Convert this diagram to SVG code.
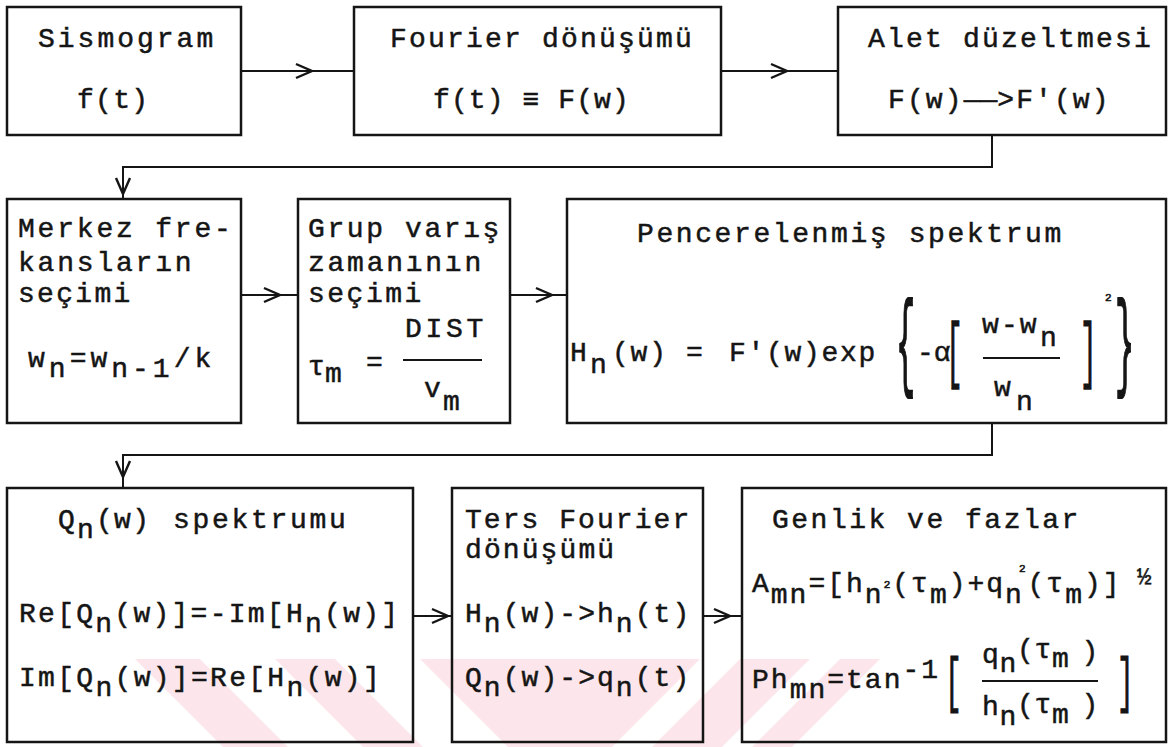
<svg xmlns="http://www.w3.org/2000/svg" width="1168" height="747" viewBox="0 0 1168 747">
  <style>
    .t { font-family: "Liberation Mono", "DejaVu Sans Mono", monospace; font-size: 28px; fill: #151515; stroke: #151515; stroke-width: 0.5px; }
    .sm { font-size: 11px; stroke-width: 0.6px; }
    .box { fill: none; stroke: #151515; stroke-width: 2.5; }
    .rule { stroke: #151515; stroke-width: 2.2; }
    .wire { fill: none; stroke: #151515; stroke-width: 2; }
    .wm { fill: #fce6eb; }
  </style>
  <defs>
    <marker id="chev" markerUnits="userSpaceOnUse" markerWidth="24" markerHeight="24" viewBox="-20 -12 24 24" refX="0" refY="0" orient="auto">
      <path d="M-16,-7 L0,0 L-16,7" fill="none" stroke="#151515" stroke-width="2.4"/>
    </marker>
  </defs>
  <rect width="1168" height="747" fill="#ffffff"/>

  <!-- faint background stamp along the bottom edge -->
  <g id="stamp">
    <polygon class="wm" points="135,659 200,659 288,747 223,747"/>
    <polygon class="wm" points="275,659 335,659 423,747 363,747"/>
    <polygon class="wm" points="420,659 560,659 560,747 508,747"/>
    <polygon class="wm" points="560,659 700,659 612,747 560,747"/>
    <polygon class="wm" points="740,659 810,659 722,747 652,747"/>
    <polygon class="wm" points="840,659 880,659 792,747 752,747"/>
  </g>

  <!-- connectors -->
  <g id="connectors">
    <path class="wire" d="M241,71 H312" marker-end="url(#chev)"/>
    <path class="wire" d="M312,71 H354"/>
    <path class="wire" d="M721,71 H787" marker-end="url(#chev)"/>
    <path class="wire" d="M787,71 H838"/>
    <path class="wire" d="M992,135 V167 H123 V194" marker-end="url(#chev)"/>
    <path class="wire" d="M123,194 V199"/>
    <path class="wire" d="M241,295 H280" marker-end="url(#chev)"/>
    <path class="wire" d="M280,295 H298"/>
    <path class="wire" d="M510,295 H552" marker-end="url(#chev)"/>
    <path class="wire" d="M552,295 H567"/>
    <path class="wire" d="M992,423 V455 H123 V477" marker-end="url(#chev)"/>
    <path class="wire" d="M123,477 V488"/>
    <path class="wire" d="M413,616 H448" marker-end="url(#chev)"/>
    <path class="wire" d="M448,616 H452"/>
    <path class="wire" d="M703,616 H730" marker-end="url(#chev)"/>
    <path class="wire" d="M730,616 H742"/>
  </g>

  <g id="sismogram">
    <rect class="box" x="7" y="7" width="234" height="128"/>
    <text class="t" x="38" y="47" style="letter-spacing:3px">Sismogram</text>
    <text class="t" x="77" y="108" style="letter-spacing:1.3px">f(t)</text>
  </g>

  <g id="fourier">
    <rect class="box" x="354" y="7" width="367" height="128"/>
    <text class="t" x="390" y="47" style="letter-spacing:2.2px">Fourier dönüşümü</text>
    <text class="t" x="433" y="108" style="letter-spacing:1.1px">f(t) ≡ F(w)</text>
  </g>

  <g id="alet">
    <rect class="box" x="838" y="7" width="328" height="128"/>
    <text class="t" x="868" y="47" style="letter-spacing:2.2px">Alet düzeltmesi</text>
    <text class="t" x="888" y="108" style="letter-spacing:2.1px">F(w)<tspan style="letter-spacing:0">——</tspan>&gt;F'(w)</text>
  </g>

  <g id="merkez">
    <rect class="box" x="7" y="199" width="234" height="224"/>
    <text class="t" x="18" y="237" style="letter-spacing:2.8px">Merkez fre-</text>
    <text class="t" x="18" y="271" style="letter-spacing:2.8px">kansların</text>
    <text class="t" x="18" y="302" style="letter-spacing:2.3px">seçimi</text>
    <text class="t" x="28" y="367" style="letter-spacing:4px">w<tspan dy="10">n</tspan><tspan dy="-10">=w</tspan><tspan dy="10">n-1</tspan><tspan dy="-10">/k</tspan></text>
  </g>

  <g id="grup">
    <rect class="box" x="298" y="199" width="212" height="224"/>
    <text class="t" x="308" y="237" style="letter-spacing:2.6px">Grup varış</text>
    <text class="t" x="308" y="271" style="letter-spacing:2.75px">zamanının</text>
    <text class="t" x="308" y="302" style="letter-spacing:2.5px">seçimi</text>
    <text class="t" x="405" y="337" style="letter-spacing:3.7px">DIST</text>
    <text class="t"><tspan x="308" y="375">τ</tspan><tspan x="325" y="382">m</tspan><tspan x="366" y="371">=</tspan></text>
    <line class="rule" x1="403" y1="360" x2="482" y2="360"/>
    <text class="t"><tspan x="424" y="397">v</tspan><tspan x="443" y="410">m</tspan></text>
  </g>

  <g id="pencere">
    <rect class="box" x="567" y="199" width="599" height="224"/>
    <text class="t" x="637" y="242" style="letter-spacing:2.6px">Pencerelenmiş spektrum</text>
    <text class="t"><tspan x="570" y="361">H</tspan><tspan x="590" y="373">n</tspan><tspan x="612" y="361" style="letter-spacing:1.8px">(w)</tspan><tspan x="686" y="361">=</tspan><tspan x="729" y="361" style="letter-spacing:1.7px">F'(w)exp</tspan><tspan x="917" y="361">-α</tspan></text>
    <text class="t" transform="matrix(1.15 0 0 3.85 896 376)">{</text>
    <text class="t" transform="matrix(1 0 0 2.55 946 373.8)">[</text>
    <text class="t"><tspan x="982" y="333" style="letter-spacing:2.1px">w-w</tspan><tspan x="1040" y="346">n</tspan></text>
    <line class="rule" x1="983" y1="358" x2="1060" y2="358"/>
    <text class="t"><tspan x="994" y="396">w</tspan><tspan x="1016" y="410">n</tspan></text>
    <text class="t" transform="matrix(1 0 0 2.55 1080 373.8)">]</text>
    <text class="t sm" x="1105" y="301">2</text>
    <text class="t" transform="matrix(1.15 0 0 3.85 1115 376)">}</text>
  </g>

  <g id="qspektrum">
    <rect class="box" x="7" y="488" width="406" height="254"/>
    <text class="t"><tspan x="58" y="528">Q</tspan><tspan x="77" y="538">n</tspan><tspan x="96" y="528" style="letter-spacing:1.3px">(w)</tspan><tspan x="173" y="528" style="letter-spacing:2.7px">spektrumu</tspan></text>
    <text class="t" x="19" y="622" style="letter-spacing:2.26px">Re[Q<tspan dy="10">n</tspan><tspan dy="-10">(w)]=-Im[H</tspan><tspan dy="10">n</tspan><tspan dy="-10">(w)]</tspan></text>
    <text class="t" x="19" y="686" style="letter-spacing:2.3px">Im[Q<tspan dy="10">n</tspan><tspan dy="-10">(w)]=Re[H</tspan><tspan dy="10">n</tspan><tspan dy="-10">(w)]</tspan></text>
  </g>

  <g id="ters">
    <rect class="box" x="452" y="488" width="251" height="254"/>
    <text class="t" x="465" y="528" style="letter-spacing:2.05px">Ters Fourier</text>
    <text class="t" x="465" y="558" style="letter-spacing:2.1px">dönüşümü</text>
    <text class="t" x="465" y="622" style="letter-spacing:2.05px">H<tspan dy="10">n</tspan><tspan dy="-10">(w)-&gt;h</tspan><tspan dy="10">n</tspan><tspan dy="-10">(t)</tspan></text>
    <text class="t" x="465" y="686" style="letter-spacing:2.05px">Q<tspan dy="10">n</tspan><tspan dy="-10">(w)-&gt;q</tspan><tspan dy="10">n</tspan><tspan dy="-10">(t)</tspan></text>
  </g>

  <g id="genlik">
    <rect class="box" x="742" y="488" width="424" height="254"/>
    <text class="t" x="772" y="528" style="letter-spacing:2.5px">Genlik ve fazlar</text>
    <!-- amplitude: A_mn = [h_n^2(tau_m) + q_n^2(tau_m)]^(1/2) -->
    <text class="t" x="752" y="592" style="letter-spacing:2px">A<tspan dy="11">mn</tspan><tspan dy="-11">=[h</tspan><tspan dy="11">n</tspan><tspan class="sm" dy="-15">2</tspan><tspan dy="4">(τ</tspan><tspan dy="11">m</tspan><tspan dy="-11">)+q</tspan><tspan dy="11">n</tspan><tspan class="sm" dx="-5" dy="-31">2</tspan><tspan dy="20">(τ</tspan><tspan dy="11">m</tspan><tspan dy="-11">)]</tspan></text>
    <text class="t" x="1137" y="584" style="font-size:24px">½</text>
    <!-- phase: Ph_mn = tan^-1 [ q_n(tau_m) / h_n(tau_m) ] -->
    <text class="t" x="752" y="688" style="letter-spacing:2px">P<tspan>h</tspan><tspan dy="10">mn</tspan><tspan dy="-10">=tan</tspan><tspan dy="-10">-1</tspan></text>
    <text class="t" transform="matrix(1 0 0 2.19 945 700)">[</text>
    <text class="t" x="982" y="663" style="letter-spacing:0.7px">q<tspan dy="9">n</tspan><tspan dy="-14">(τ</tspan><tspan dy="9">m</tspan><tspan dx="12" dy="-7">)</tspan></text>
    <line class="rule" x1="982" y1="681" x2="1098" y2="681"/>
    <text class="t" x="982" y="715" style="letter-spacing:0.7px">h<tspan dy="10">n</tspan><tspan dy="-12">(τ</tspan><tspan dy="10">m</tspan><tspan dx="12" dy="-10">)</tspan></text>
    <text class="t" transform="matrix(1 0 0 2.19 1117 700)">]</text>
  </g>
</svg>
